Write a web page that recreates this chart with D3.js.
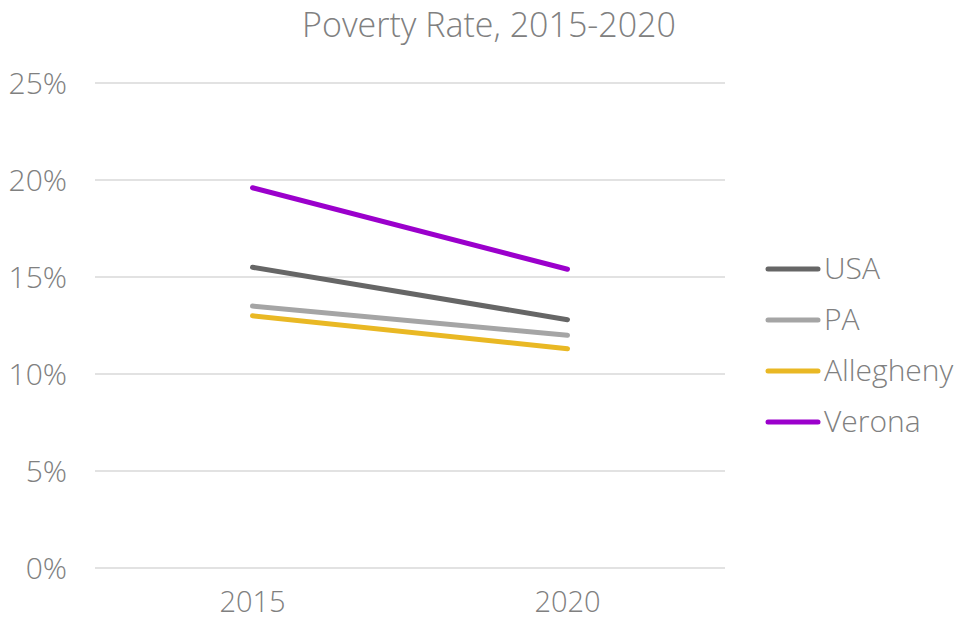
<!DOCTYPE html>
<html lang="en">
<head>
    <meta charset="UTF-8">
    <title>Poverty Rate, 2015-2020</title>
    <style>
        body { margin: 0; background: #fff; }
        text { font-family: "Open Sans", Lato, sans-serif; font-weight: 300; fill: #808080; }
    </style>
</head>
<body>
    <script src="https://cdn.jsdelivr.net/npm/d3@7"></script>
    <script>
        const years = ['2015', '2020'];
        const seriesNames = ['USA', 'PA', 'Allegheny', 'Verona'];
        const usa = [15.5, 12.8];
        const pa = [13.5, 12.0];
        const allegheny = [13.0, 11.3];
        const verona = [19.6, 15.4];
        const yTicks = [0, 5, 10, 15, 20, 25];

        const colors = ['#666666', '#a5a5a5', '#e9b824', '#9b00cc'];
        const series = [usa, pa, allegheny, verona].map((v, i) => ({ name: seriesNames[i], values: v, color: colors[i] }));

        const w = 960;
        const h = 620;
        const plotLeft = 95, plotRight = 725, plotTop = 83, plotBottom = 568;

        const xScale = d3.scaleBand()
            .domain(years)
            .range([plotLeft, plotRight]);

        const yScale = d3.scaleLinear()
            .domain([0, 25])
            .range([plotBottom, plotTop]);

        const svg = d3.select('body')
            .append('svg')
            .attr('width', w)
            .attr('height', h);

        // gridlines
        svg.selectAll('line.grid')
            .data(yTicks)
            .enter()
            .append('line')
            .attr('class', 'grid')
            .attr('x1', plotLeft)
            .attr('x2', plotRight)
            .attr('y1', d => yScale(d))
            .attr('y2', d => yScale(d))
            .attr('stroke', '#d9d9d9')
            .attr('stroke-width', 1.5);

        svg.selectAll('text.ylab')
            .data(yTicks)
            .enter()
            .append('text')
            .attr('class', 'ylab')
            .attr('x', 67)
            .attr('y', d => yScale(d))
            .attr('dy', '0.38em')
            .attr('text-anchor', 'end')
            .attr('font-size', 30)
            .text(d => d + '%');

        svg.selectAll('text.xlab')
            .data(years)
            .enter()
            .append('text')
            .attr('class', 'xlab')
            .attr('x', d => xScale(d) + xScale.bandwidth() / 2)
            .attr('y', 612)
            .attr('text-anchor', 'middle')
            .attr('font-size', 29)
            .text(d => d);

        const line = d3.line()
            .x((d, i) => xScale(years[i]) + xScale.bandwidth() / 2)
            .y(d => yScale(d));

        svg.selectAll('path.series')
            .data(series)
            .enter()
            .append('path')
            .attr('class', 'series')
            .attr('d', d => line(d.values))
            .attr('fill', 'none')
            .attr('stroke', d => d.color)
            .attr('stroke-width', 5)
            .attr('stroke-linecap', 'round');

        // legend
        const legend = svg.selectAll('g.legend')
            .data(series)
            .enter()
            .append('g')
            .attr('class', 'legend')
            .attr('transform', (d, i) => `translate(768, ${269 + i * 51})`);

        legend.append('line')
            .attr('x1', 0)
            .attr('x2', 50)
            .attr('stroke', d => d.color)
            .attr('stroke-width', 5)
            .attr('stroke-linecap', 'round');

        legend.append('text')
            .attr('x', 56)
            .attr('dy', '0.34em')
            .attr('font-size', 30)
            .text(d => d.name);

        svg.append('text')
            .attr('x', 489)
            .attr('y', 37)
            .attr('text-anchor', 'middle')
            .attr('font-size', 34)
            .text('Poverty Rate, 2015-2020');
    </script>
</body>
</html>
